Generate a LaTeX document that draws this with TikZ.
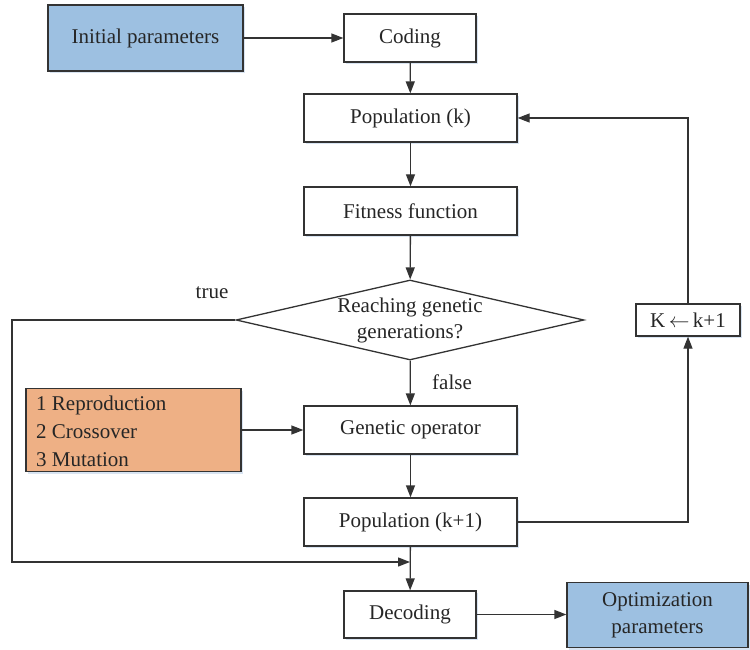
\documentclass[tikz,border=0pt]{standalone}
\usepackage{fontspec}
\setmainfont{Liberation Serif}
\usetikzlibrary{arrows.meta,shapes.geometric,shadows}
\definecolor{boxblue}{HTML}{9DC0E1}
\definecolor{boxorange}{HTML}{EEB085}
\definecolor{linegray}{HTML}{333333}
\definecolor{shadowblue}{HTML}{C8D8EC}
\tikzset{
  box/.style={draw=linegray, line width=1.3pt, fill=white, inner sep=0pt,
    font=\fontsize{21}{25}\selectfont, text=black!85,
    drop shadow={shadow xshift=1.5pt, shadow yshift=-2pt, fill=shadowblue, opacity=0.7}},
  conn/.style={draw=linegray, line width=1.3pt, -{Triangle[length=12pt,width=9pt]}},
  lbl/.style={font=\fontsize{21}{25}\selectfont, text=black!85, inner sep=0pt}
}
\begin{document}
\begin{tikzpicture}[x=1pt,y=-1pt]
\useasboundingbox (0,0) rectangle (750,650);
\node[box, fill=boxblue, minimum width=195pt, minimum height=66pt] (init) at (145.5,38) {Initial parameters};
\node[box, minimum width=132pt, minimum height=48pt] (coding) at (410,38) {Coding};
\node[box, minimum width=213pt, minimum height=48pt] (popk) at (410.5,118) {Population (k)};
\node[box, minimum width=213pt, minimum height=48pt] (fit) at (410.5,211) {Fitness function};
\node[draw=linegray, line width=1.3pt, fill=white, diamond, aspect=4.35, minimum width=348pt, minimum height=80pt, inner sep=0pt] (dia) at (410,320) {};
\node[lbl, align=center, font=\fontsize{21}{26}\selectfont] at (410,320) {Reaching genetic\\generations?};
\node[box, minimum width=104pt, minimum height=32pt] (kbox) at (688,320) {K$\,\leftarrow\,$k+1};
\node[box, fill=boxorange, minimum width=215pt, minimum height=83pt] (ops) at (133.5,430) {};
\node[lbl, align=left, anchor=west, font=\fontsize{21}{28}\selectfont] at (36,431) {1 Reproduction\\2 Crossover\\3 Mutation};
\node[box, minimum width=213pt, minimum height=48pt] (gen) at (410.5,430) {Genetic operator};
\node[box, minimum width=213pt, minimum height=48pt] (popk1) at (410.5,522) {Population (k+1)};
\node[box, minimum width=132pt, minimum height=47pt] (dec) at (410,614.5) {Decoding};
\node[box, fill=boxblue, minimum width=181pt, minimum height=65pt, align=center, font=\fontsize{21}{27}\selectfont] (opt) at (657.5,615) {Optimization\\parameters};
\coordinate (merge) at (410,562);
\coordinate (tl) at (12,320);
\coordinate (bl) at (12,562);

\draw[conn] (init) -- (coding);
\draw[conn] (coding) -- (popk);
\draw[conn] (popk) -- (fit);
\draw[conn] (fit) -- (dia);
\draw[conn] (dia) -- (gen);
\draw[conn] (ops.east) -- (gen.west);
\draw[conn] (gen) -- (popk1);
\draw[conn] (popk1) -- (dec);
\draw[conn] (dec.east) -- (dec.east -| opt.west);
\draw[conn] (dia.west) -- (tl) -- (bl) -- (merge);
\draw[conn] (popk1.east) -| (kbox.south);
\draw[conn] (kbox.north) |- (popk.east);
\node[lbl] (truelbl) at (212,293) {true};
\node[lbl] (falselbl) at (452,382) {false};
\end{tikzpicture}
\end{document}
